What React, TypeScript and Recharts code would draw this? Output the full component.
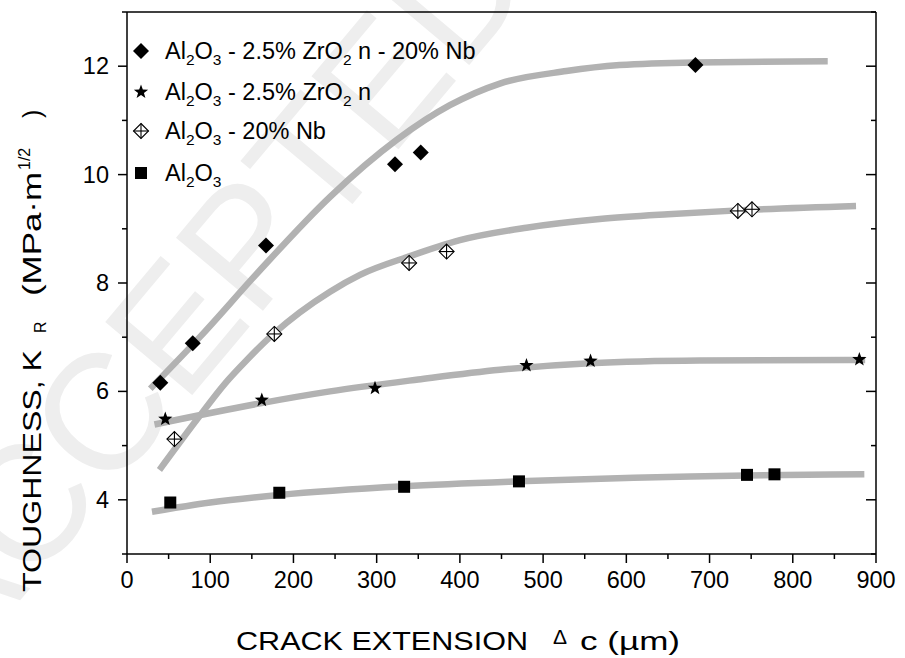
import { ComposedChart, Line, Scatter, XAxis, YAxis, Legend } from "recharts"

// measured points
const nbZrX = [40, 79, 167, 322, 353, 683]
const nbZrY = [6.16, 6.89, 8.69, 10.19, 10.41, 12.02]

const zrX = [46, 162, 298, 480, 557, 880]
const zrY = [5.49, 5.84, 6.06, 6.48, 6.56, 6.59]

const nbX = [57, 177, 339, 384, 734, 751]
const nbY = [5.12, 7.06, 8.37, 8.58, 9.33, 9.36]

const alX = [52, 183, 333, 471, 745, 778]
const alY = [3.95, 4.13, 4.24, 4.34, 4.46, 4.47]

// fitted curves (grey)
const fitNbZrX = [28, 88, 160, 244, 324, 388, 448, 528, 592, 682, 842]
const fitNbZrY = [6.05, 7.01, 8.24, 9.59, 10.64, 11.28, 11.68, 11.91, 12.02, 12.07, 12.09]

const fitNbX = [39, 84, 118, 144, 176, 244, 280, 339, 400, 480, 568, 650, 734, 876]
const fitNbY = [4.55, 5.48, 6.15, 6.58, 7.06, 7.84, 8.15, 8.49, 8.79, 9.02, 9.18, 9.27, 9.34, 9.42]

const fitZrX = [33, 160, 244, 350, 448, 556, 688, 887]
const fitZrY = [5.39, 5.78, 6.0, 6.22, 6.4, 6.52, 6.57, 6.58]

const fitAlX = [30, 100, 183, 333, 471, 745, 886]
const fitAlY = [3.78, 3.95, 4.09, 4.25, 4.34, 4.45, 4.47]

const xTicks = [0, 50, 100, 150, 200, 250, 300, 350, 400, 450, 500, 550, 600, 650, 700, 750, 800, 850, 900]
const yTicks = [3, 4, 5, 6, 7, 8, 9, 10, 11, 12, 13]

const zip = (xs: number[], ys: number[]) => xs.map((x, i) => ({ x, y: ys[i] }))

const FONT = "'Liberation Sans', Arial, sans-serif"
const FIT = "#b2b2b2"

const Diamond = ({ cx, cy }: any) => (
  <path d={`M${cx},${cy - 8}L${cx + 8},${cy}L${cx},${cy + 8}L${cx - 8},${cy}Z`} fill="#000" />
)

const CrossDiamond = ({ cx, cy }: any) => (
  <g stroke="#000" strokeWidth={1.1} fill="#fff">
    <path d={`M${cx},${cy - 7.5}L${cx + 7.5},${cy}L${cx},${cy + 7.5}L${cx - 7.5},${cy}Z`} />
    <line x1={cx - 7.5} y1={cy} x2={cx + 7.5} y2={cy} />
    <line x1={cx} y1={cy - 7.5} x2={cx} y2={cy + 7.5} />
  </g>
)

const Star = ({ cx, cy }: any) => {
  const pts: string[] = []
  for (let i = 0; i < 10; i++) {
    const r = i % 2 === 0 ? 7.5 : 3.1
    const a = -Math.PI / 2 + (i * Math.PI) / 5
    pts.push(`${cx + r * Math.cos(a)},${cy + r * Math.sin(a)}`)
  }
  return <polygon points={pts.join(" ")} fill="#000" />
}

const Square = ({ cx, cy }: any) => <rect x={cx - 6} y={cy - 6} width={12} height={12} fill="#000" />

const BottomTick = ({ x, y, payload }: any) => {
  const major = payload.value % 100 === 0
  return (
    <g>
      <line x1={x} y1={y} x2={x} y2={y + (major ? 9 : 5)} stroke="#000" strokeWidth={1.5} />
      {major && (
        <text x={x} y={y + 34} textAnchor="middle" fontSize={23.5} fontFamily={FONT} fill="#000">
          {payload.value}
        </text>
      )}
    </g>
  )
}

const TopTick = ({ x, y, payload }: any) => {
  const major = payload.value % 100 === 0
  return <line x1={x} y1={y} x2={x} y2={y + (major ? 10 : 5)} stroke="#000" strokeWidth={1.5} />
}

const LeftTick = ({ x, y, payload }: any) => {
  const major = payload.value % 2 === 0
  return (
    <g>
      <line x1={x} y1={y} x2={x - (major ? 9 : 5)} y2={y} stroke="#000" strokeWidth={1.5} />
      {major && (
        <text x={x - 18} y={y + 8} textAnchor="end" fontSize={23.5} fontFamily={FONT} fill="#000">
          {payload.value}
        </text>
      )}
    </g>
  )
}

const RightTick = ({ x, y, payload }: any) => {
  const major = payload.value % 2 === 0
  return <line x1={x} y1={y} x2={x - (major ? 10 : 5)} y2={y} stroke="#000" strokeWidth={1.5} />
}

// legend label pieces: [text, isSubscript]
const legendRows: { y: number; marker: any; parts: [string, boolean][] }[] = [
  {
    y: 51,
    marker: Diamond,
    parts: [["Al", false], ["2", true], ["O", false], ["3", true], [" - 2.5% ZrO", false], ["2", true], [" n - 20% Nb", false]],
  },
  {
    y: 92,
    marker: Star,
    parts: [["Al", false], ["2", true], ["O", false], ["3", true], [" - 2.5% ZrO", false], ["2", true], [" n", false]],
  },
  {
    y: 131,
    marker: CrossDiamond,
    parts: [["Al", false], ["2", true], ["O", false], ["3", true], [" - 20% Nb", false]],
  },
  {
    y: 173,
    marker: Square,
    parts: [["Al", false], ["2", true], ["O", false], ["3", true]],
  },
]

const renderLegend = () => (
  <svg width={520} height={200} style={{ display: "block" }}>
    {legendRows.map((r, i) => {
      const M = r.marker
      let prevSub = false
      return (
        <g key={i}>
          <M cx={141} cy={r.y} />
          <text x={165} y={r.y + 8} fontSize={23.5} fontFamily={FONT} fill="#000" style={{ whiteSpace: "pre" }}>
            {r.parts.map(([t, sub], j) => {
              const dy = sub && !prevSub ? 6 : !sub && prevSub ? -6 : 0
              prevSub = sub
              return (
                <tspan key={j} dy={dy} fontSize={sub ? 15.5 : 23.5}>
                  {t}
                </tspan>
              )
            })}
          </text>
        </g>
      )
    })}
  </svg>
)

const YTitle = () => (
  <g transform="translate(41,0) rotate(-90)" fontFamily={FONT} fill="#000">
    <text x={-592} y={0} fontSize={25} textLength={242} lengthAdjust="spacingAndGlyphs">
      TOUGHNESS, K
    </text>
    <text x={-333} y={5} fontSize={16}>
      R
    </text>
    <text x={-296} y={0} fontSize={25} textLength={124} lengthAdjust="spacingAndGlyphs">
      (MPa·m
    </text>
    <text x={-170} y={-11} fontSize={16}>
      1/2
    </text>
    <text x={-118} y={0} fontSize={25}>
      )
    </text>
  </g>
)

const XTitle = () => (
  <g fontFamily={FONT} fill="#000">
    <text x={236} y={650} fontSize={25} textLength={292} lengthAdjust="spacingAndGlyphs">
      CRACK EXTENSION
    </text>
    <text x={553} y={644} fontSize={21}>
      Δ
    </text>
    <text x={580} y={650} fontSize={25} textLength={100} lengthAdjust="spacingAndGlyphs">
      c (µm)
    </text>
  </g>
)

export default function App() {
  return (
    <div style={{ position: "absolute", left: 0, top: 0, width: 905, height: 658, background: "#fff" }}>
      <svg width={905} height={658} style={{ position: "absolute", left: 0, top: 0 }}>
        <text
          x={0}
          y={0}
          transform="translate(215,300) rotate(-50)"
          textAnchor="middle"
          dominantBaseline="middle"
          fontSize={165}
          fontFamily={FONT}
          fill="#eeeeee"
        >
          ACCEPTED
        </text>
      </svg>
      <div style={{ position: "absolute", left: 0, top: 0 }}>
        <ComposedChart width={905} height={658} margin={{ top: 11, right: 28, bottom: 64, left: 67 }}>
          <XAxis
            xAxisId="b"
            dataKey="x"
            type="number"
            domain={[0, 900]}
            ticks={xTicks}
            interval={0}
            allowDataOverflow
            height={40}
            tickSize={0}
            tickMargin={0}
            tickLine={false}
            tick={<BottomTick />}
            axisLine={{ stroke: "#000", strokeWidth: 1.5 }}
            label={<XTitle />}
          />
          <XAxis
            xAxisId="t"
            orientation="top"
            type="number"
            domain={[0, 900]}
            ticks={xTicks}
            interval={0}
            allowDataOverflow
            height={1}
            tickSize={0}
            tickMargin={0}
            tickLine={false}
            tick={<TopTick />}
            axisLine={{ stroke: "#000", strokeWidth: 1.5 }}
          />
          <YAxis
            yAxisId="l"
            dataKey="y"
            type="number"
            domain={[3, 13]}
            ticks={yTicks}
            interval={0}
            allowDataOverflow
            width={60}
            tickSize={0}
            tickMargin={0}
            tickLine={false}
            tick={<LeftTick />}
            axisLine={{ stroke: "#000", strokeWidth: 1.5 }}
            label={<YTitle />}
          />
          <YAxis
            yAxisId="r"
            orientation="right"
            type="number"
            domain={[3, 13]}
            ticks={yTicks}
            interval={0}
            allowDataOverflow
            width={1}
            tickSize={0}
            tickMargin={0}
            tickLine={false}
            tick={<RightTick />}
            axisLine={{ stroke: "#000", strokeWidth: 1.5 }}
          />
          <Legend
            layout="vertical"
            align="center"
            verticalAlign="middle"
            content={renderLegend}
            wrapperStyle={{ left: 0, top: 0, width: 520, height: 200 }}
          />
          <Line xAxisId="b" yAxisId="l" data={zip(fitNbZrX, fitNbZrY)} dataKey="y" type="monotone" stroke={FIT} strokeWidth={6.5} dot={false} isAnimationActive={false} legendType="none" />
          <Line xAxisId="b" yAxisId="l" data={zip(fitNbX, fitNbY)} dataKey="y" type="monotone" stroke={FIT} strokeWidth={6.5} dot={false} isAnimationActive={false} legendType="none" />
          <Line xAxisId="b" yAxisId="l" data={zip(fitZrX, fitZrY)} dataKey="y" type="monotone" stroke={FIT} strokeWidth={6.5} dot={false} isAnimationActive={false} legendType="none" />
          <Line xAxisId="b" yAxisId="l" data={zip(fitAlX, fitAlY)} dataKey="y" type="monotone" stroke={FIT} strokeWidth={6.5} dot={false} isAnimationActive={false} legendType="none" />
          <Scatter xAxisId="b" yAxisId="l" data={zip(nbZrX, nbZrY)} dataKey="y" shape={<Diamond />} isAnimationActive={false} />
          <Scatter xAxisId="b" yAxisId="l" data={zip(zrX, zrY)} dataKey="y" shape={<Star />} isAnimationActive={false} />
          <Scatter xAxisId="b" yAxisId="l" data={zip(nbX, nbY)} dataKey="y" shape={<CrossDiamond />} isAnimationActive={false} />
          <Scatter xAxisId="b" yAxisId="l" data={zip(alX, alY)} dataKey="y" shape={<Square />} isAnimationActive={false} />
        </ComposedChart>
      </div>
    </div>
  )
}
